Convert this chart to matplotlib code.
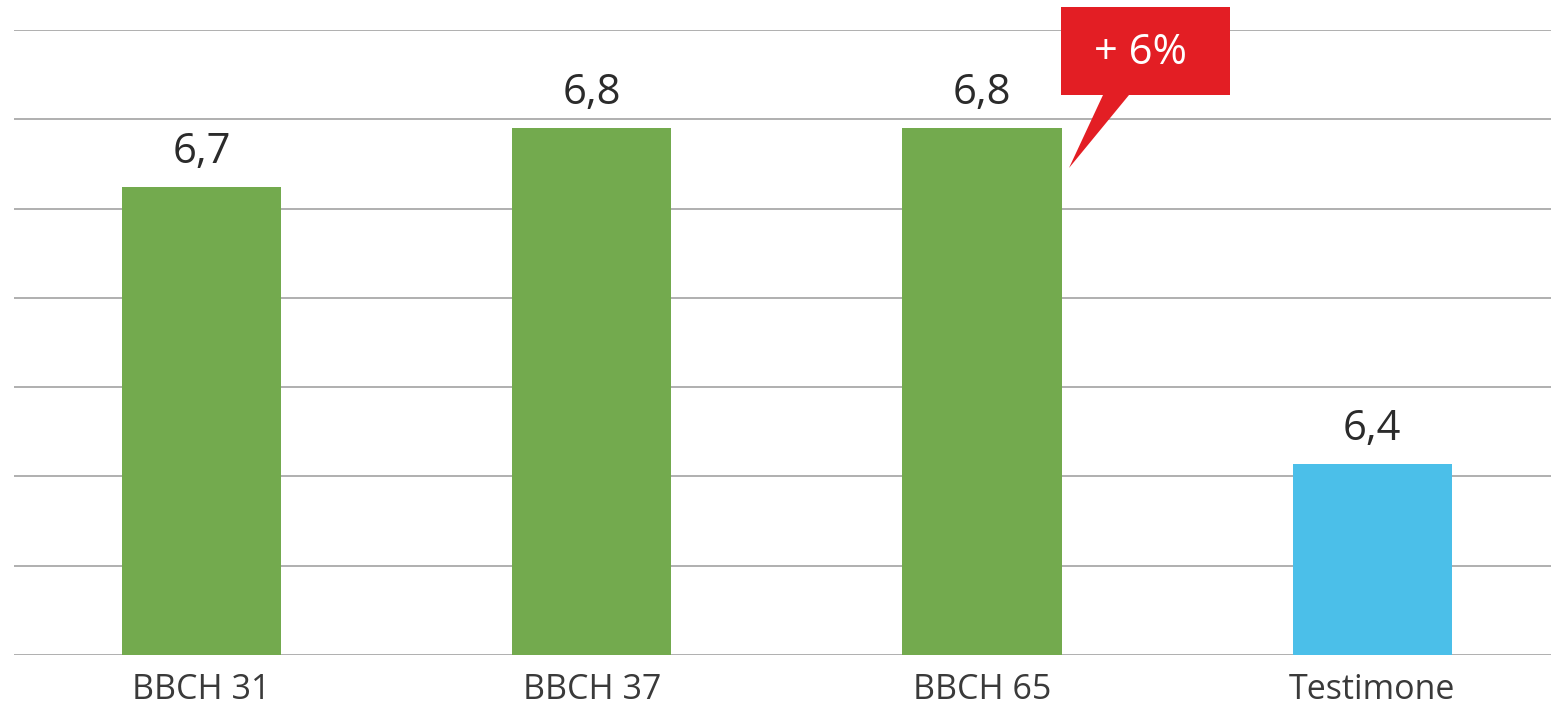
import matplotlib
matplotlib.use("Agg")
import matplotlib.pyplot as plt
from matplotlib.patches import Polygon

categories = ["BBCH 31", "BBCH 37", "BBCH 65", "Testimone"]
values = [6.724, 6.79, 6.79, 6.414]
value_labels = ["6,7", "6,8", "6,8", "6,4"]
bar_colors = ["#73AA4E", "#73AA4E", "#73AA4E", "#4BBFE9"]
callout_text = "+ 6%"

plt.rcParams['font.family'] = ['Open Sans', 'DejaVu Sans']

fig = plt.figure(figsize=(15.51, 7.05), dpi=100)
W, H = 1551, 705
ax = fig.add_axes([14 / W, (H - 655) / H, (1551 - 14) / W, (655 - 30) / H])

ymin, ymax = 6.2, 6.9
x = list(range(len(categories)))
ax.bar(x, [v - ymin for v in values], bottom=ymin, width=0.408, color=bar_colors, zorder=3)
ax.set_ylim(ymin, ymax)
ax.set_xlim(-0.481, 3.458)
ax.set_yticks([6.2 + 0.1 * i for i in range(8)])
ax.yaxis.grid(True, color="#9a9a9a", linewidth=1.1, zorder=0)
ax.set_yticklabels([])
ax.tick_params(axis='y', length=0)
ax.tick_params(axis='x', length=0, pad=13)
ax.set_xticks(x)
ax.set_xticklabels(categories, fontsize=24.5, color="#3a3a3a")
for s in ax.spines.values():
    s.set_visible(False)

for xi, v, lab in zip(x, values, value_labels):
    ax.annotate(lab, (xi, v), xytext=(0, 10), textcoords="offset points",
                ha="center", va="bottom", fontsize=30, color="#2b2b2b")

# callout box (figure pixel coordinates)
def px(xp, yp):
    return (xp / W, 1 - yp / H)

rect_pts = [px(1061, 7), px(1230, 7), px(1230, 95), px(1129, 95), px(1069, 168), px(1103, 95), px(1061, 95)]
fig.patches.append(Polygon(rect_pts, closed=True, transform=fig.transFigure,
                           facecolor="#E31E24", edgecolor="none", zorder=5))
fig.text(1140 / W, 1 - 53 / H, callout_text, ha="center", va="center",
         fontsize=30, color="white", zorder=6)

fig.savefig("out.png", dpi=100)
